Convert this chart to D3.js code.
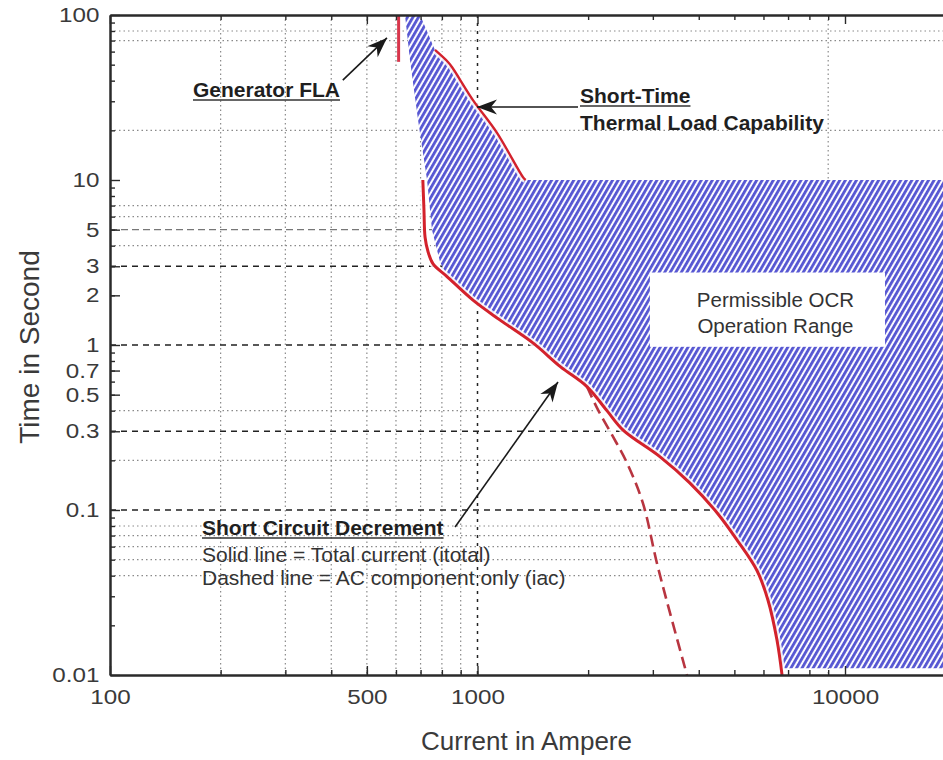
<!DOCTYPE html>
<html>
<head>
<meta charset="utf-8">
<script src="https://cdn.jsdelivr.net/npm/d3@7/dist/d3.min.js"></script>
<style>
  body { margin: 0; background: #fff; }
  svg { display: block; }
  text { font-family: Arial, "Liberation Sans", Helvetica, sans-serif; }
</style>
</head>
<body>
<svg id="chart" width="943" height="760"></svg>
<script>
// ---- data (current in A, time in s) ----
const xTickValues = [100, 500, 1000, 10000];
const xTickLabels = ["100", "500", "1000", "10000"];
const yTickValues = [100, 10, 5, 3, 2, 1, 0.7, 0.5, 0.3, 0.1, 0.01];
const yTickLabels = ["100", "10", "5", "3", "2", "1", "0.7", "0.5", "0.3", "0.1", "0.01"];

// generator full-load amperes, drawn as a short vertical bar
const generatorFLA = 610;
const flaTimeSpan = [100, 52];

// short-time thermal load capability of the generator
const thermalCapability = [
  [766, 61.4], [831, 51.9], [852, 48.4], [972, 30.5], [1130, 19.3], [1330, 10.4], [1352, 10]
];

// short-circuit decrement, total current (solid)
const totalCurrent = [
  [710, 10], [715, 6.6], [720, 4.5], [733, 3.7], [757, 3.1], [826, 2.6], [972, 1.87],
  [1150, 1.42], [1415, 1.03], [1680, 0.74], [1985, 0.56], [2250, 0.40], [2490, 0.305],
  [3140, 0.21], [3780, 0.146], [4490, 0.096], [5080, 0.066], [5760, 0.043],
  [6170, 0.0285], [6530, 0.0163], [6740, 0.01]
];

// short-circuit decrement, AC component only (dashed)
const acComponent = [
  [1985, 0.56], [2128, 0.404], [2323, 0.285], [2551, 0.193], [2819, 0.110],
  [3077, 0.0477], [3342, 0.0237], [3715, 0.01]
];

// permissible OCR operation range: outline pieces
const rangeTop = [[635, 100], [698, 100]];
const rangeLeft = [[791, 3.18], [752, 4.98], [729, 10], [689, 23.1], [655, 53.4]];
const rangeFloor = 0.011;
const rangeCap = 10;

// reference grid
const dottedGridT = [80, 70, 20, 7, 6, 4, 0.4, 0.2, 0.08, 0.07, 0.06, 0.05, 0.04];
const dashedGridT = [3, 1, 0.3, 0.1];
const greyDashedGridT = [5];
const dottedGridA = [200, 300, 400, 500, 600, 700, 800, 900, 9000];
const dashedGridA = [1000];

// label box inside the range
const rangeLabelBox = { a0: 2945, a1: 12850, t0: 2.75, t1: 0.975 };
const rangeLabelLines = ["Permissible OCR", "Operation Range"];

(function draw() {
  const W = 943, H = 760;
  const mLeft = 110, mTop = 15, mBottom = 675;
  const decadeX = 367.5;
  const xMax = 20000;

  const svg = d3.select("#chart");
  const x = d3.scaleLog().domain([100, xMax]).range([mLeft, mLeft + decadeX * Math.log10(xMax / 100)]);
  const y = d3.scaleLog().domain([0.01, 100]).range([mBottom, mTop]);

  const defs = svg.append("defs");
  defs.append("clipPath").attr("id", "plotClip")
    .append("rect").attr("x", mLeft).attr("y", mTop).attr("width", W - mLeft).attr("height", mBottom - mTop);

  const hatch = defs.append("pattern")
    .attr("id", "hatch").attr("patternUnits", "userSpaceOnUse")
    .attr("width", 4.8).attr("height", 12)
    .attr("patternTransform", "rotate(30)");
  hatch.append("rect").attr("width", 4.8).attr("height", 12).attr("fill", "#fbfbff");
  hatch.append("rect").attr("width", 2.8).attr("height", 12).attr("fill", "#5656d2");

  const arrowHead = defs.append("marker")
    .attr("id", "arrow").attr("markerUnits", "userSpaceOnUse")
    .attr("viewBox", "-22 -9 24 18").attr("refX", 0).attr("refY", 0)
    .attr("markerWidth", 24).attr("markerHeight", 18).attr("orient", "auto");
  arrowHead.append("path").attr("d", "M0,0L-20,-7.5L-14,0L-20,7.5Z").attr("fill", "#1a1a1a");

  const plot = svg.append("g").attr("clip-path", "url(#plotClip)");

  // grid
  plot.append("g").selectAll("line").data(dottedGridT).join("line")
    .attr("x1", mLeft).attr("x2", W).attr("y1", d => y(d)).attr("y2", d => y(d))
    .attr("stroke", "#8a8a8a").attr("stroke-width", 1.2).attr("stroke-dasharray", "1.5,3");
  plot.append("g").selectAll("line").data(dottedGridA).join("line")
    .attr("x1", d => x(d)).attr("x2", d => x(d)).attr("y1", mTop).attr("y2", mBottom)
    .attr("stroke", "#8a8a8a").attr("stroke-width", 1.2).attr("stroke-dasharray", "1.5,3");
  plot.append("g").selectAll("line").data(greyDashedGridT).join("line")
    .attr("x1", mLeft).attr("x2", W).attr("y1", d => y(d)).attr("y2", d => y(d))
    .attr("stroke", "#777").attr("stroke-width", 1.3).attr("stroke-dasharray", "7,4");
  plot.append("g").selectAll("line").data(dashedGridT).join("line")
    .attr("x1", mLeft).attr("x2", W).attr("y1", d => y(d)).attr("y2", d => y(d))
    .attr("stroke", "#222").attr("stroke-width", 1.4).attr("stroke-dasharray", "6,5");
  plot.append("g").selectAll("line").data(dashedGridA).join("line")
    .attr("x1", d => x(d)).attr("x2", d => x(d)).attr("y1", mTop).attr("y2", mBottom)
    .attr("stroke", "#222").attr("stroke-width", 1.5).attr("stroke-dasharray", "3,5");

  // permissible operation range
  const lower = totalCurrent.filter(d => d[1] <= 2.6 && d[1] > rangeFloor);
  const floorA = 6700;
  const outline = [].concat(
    rangeTop,
    thermalCapability,
    [[xMax, rangeCap], [xMax, rangeFloor], [floorA, rangeFloor]],
    lower.slice().reverse(),
    rangeLeft
  );
  plot.append("path")
    .attr("d", d3.line().x(d => x(d[0])).y(d => y(d[1]))(outline) + "Z")
    .attr("fill", "url(#hatch)");

  // label box
  plot.append("rect")
    .attr("x", x(rangeLabelBox.a0)).attr("y", y(rangeLabelBox.t0))
    .attr("width", x(rangeLabelBox.a1) - x(rangeLabelBox.a0))
    .attr("height", y(rangeLabelBox.t1) - y(rangeLabelBox.t0))
    .attr("fill", "#fff");
  const boxCx = (x(rangeLabelBox.a0) + x(rangeLabelBox.a1)) / 2 + 8;
  plot.append("g").selectAll("text").data(rangeLabelLines).join("text")
    .attr("x", boxCx).attr("y", (d, i) => y(rangeLabelBox.t0) + 34 + i * 26)
    .attr("text-anchor", "middle").attr("font-size", 20.5).attr("fill", "#333")
    .text(d => d);

  // curves
  const smooth = d3.line().x(d => x(d[0])).y(d => y(d[1])).curve(d3.curveCatmullRom.alpha(0.5));
  const straight = d3.line().x(d => x(d[0])).y(d => y(d[1]));
  const curves = plot.append("g").attr("fill", "none").attr("stroke-linecap", "butt");

  [totalCurrent, thermalCapability, acComponent].forEach(pts => {
    curves.append("path").attr("d", smooth(pts)).attr("stroke", "#fff")
      .attr("stroke-width", 7).attr("stroke-opacity", 0.85);
  });
  curves.append("path").attr("d", smooth(acComponent))
    .attr("stroke", "#b83540").attr("stroke-width", 2.6).attr("stroke-dasharray", "12,6");
  curves.append("path").attr("d", smooth(totalCurrent))
    .attr("stroke", "#d3222c").attr("stroke-width", 3);
  curves.append("path").attr("d", smooth(thermalCapability))
    .attr("stroke", "#d3222c").attr("stroke-width", 2.4);
  curves.append("path").attr("d", straight(flaTimeSpan.map(t => [generatorFLA, t])))
    .attr("stroke", "#d8364c").attr("stroke-width", 3);

  // axes
  const minorX = [];
  for (let dec = 100; dec < xMax; dec *= 10)
    for (let k = 2; k <= 9; k++) if (dec * k <= xMax) minorX.push(dec * k);
  const minorY = [];
  for (let p = -2; p < 2; p++)
    for (let k = 2; k <= 9; k++) minorY.push(+(k * Math.pow(10, p)).toPrecision(3));

  // tick numerals are set slightly wide
  function styleAxis(g) {
    g.selectAll(".domain").attr("stroke", "#2a2a2a").attr("stroke-width", 2);
    g.selectAll(".tick line").attr("stroke", "#2a2a2a").attr("stroke-width", 1.4);
    g.selectAll(".tick text").attr("fill", "#3a3a3a").attr("font-size", 20.5)
      .attr("font-family", "Arial, 'Liberation Sans', sans-serif")
      .attr("transform", "scale(1.18,1)");
  }

  svg.append("g").attr("transform", `translate(0,${mBottom})`)
    .call(d3.axisBottom(x).tickValues(minorX).tickFormat("").tickSizeInner(-5).tickSizeOuter(0))
    .call(styleAxis);
  svg.append("g").attr("transform", `translate(0,${mBottom})`)
    .call(d3.axisBottom(x).tickValues(xTickValues).tickFormat((d, i) => xTickLabels[i])
      .tickSizeInner(-9).tickSizeOuter(0).tickPadding(14))
    .call(styleAxis);
  svg.append("g").attr("transform", `translate(0,${mTop})`)
    .call(d3.axisTop(x).tickValues(minorX).tickFormat("").tickSizeInner(-5).tickSizeOuter(0))
    .call(styleAxis);
  svg.append("g").attr("transform", `translate(0,${mTop})`)
    .call(d3.axisTop(x).tickValues(xTickValues).tickFormat("").tickSizeInner(-9).tickSizeOuter(0))
    .call(styleAxis);
  svg.append("g").attr("transform", `translate(${mLeft},0)`)
    .call(d3.axisLeft(y).tickValues(minorY).tickFormat("").tickSizeInner(-5).tickSizeOuter(0))
    .call(styleAxis);
  svg.append("g").attr("transform", `translate(${mLeft},0)`)
    .call(d3.axisLeft(y).tickValues(yTickValues).tickFormat((d, i) => yTickLabels[i])
      .tickSizeInner(-10).tickSizeOuter(0).tickPadding(9))
    .call(styleAxis);

  // axis titles
  svg.append("text")
    .attr("transform", `translate(39,${(mTop + mBottom) / 2 + 2}) rotate(-90)`)
    .attr("text-anchor", "middle").attr("font-size", 28).attr("fill", "#3a3a3a")
    .text("Time in Second");
  svg.append("text")
    .attr("x", (mLeft + W) / 2).attr("y", 750)
    .attr("text-anchor", "middle").attr("font-size", 26).attr("fill", "#3a3a3a")
    .text("Current in Ampere");

  // annotations
  const notes = svg.append("g");
  function label(txt, px, py, opts = {}) {
    const t = notes.append("text").attr("x", px).attr("y", py)
      .attr("font-size", opts.size || 20)
      .attr("font-weight", opts.bold ? "bold" : "normal")
      .attr("fill", opts.fill || "#1f1f1f")
      .text(txt);
    if (opts.underline) {
      const w = t.node().getComputedTextLength();
      notes.append("line").attr("x1", px).attr("x2", px + w)
        .attr("y1", py + 3).attr("y2", py + 3)
        .attr("stroke", "#333").attr("stroke-width", 1.5);
    }
    return t;
  }
  function arrow(from, to) {
    notes.append("line")
      .attr("x1", x(from[0])).attr("y1", y(from[1]))
      .attr("x2", x(to[0])).attr("y2", y(to[1]))
      .attr("stroke", "#1a1a1a").attr("stroke-width", 1.6)
      .attr("marker-end", "url(#arrow)");
  }

  label("Generator FLA", 193, 97, { bold: true, size: 21, underline: true });
  arrow([430, 40.3], [567, 72.6]);

  label("Short-Time", 580, 103, { bold: true, size: 21, underline: true });
  label("Thermal Load Capability", 580, 130, { bold: true, size: 21 });
  arrow([1877, 27.7], [997, 27.7]);

  label("Short Circuit Decrement", 202, 535, { bold: true, size: 21, underline: true });
  label("Solid line = Total current (itotal)", 202, 562, { size: 21, fill: "#333" });
  label("Dashed line = AC component only (iac)", 202, 585, { size: 21, fill: "#333" });
  arrow([869, 0.0789], [1656, 0.597]);
})();
</script>
</body>
</html>
